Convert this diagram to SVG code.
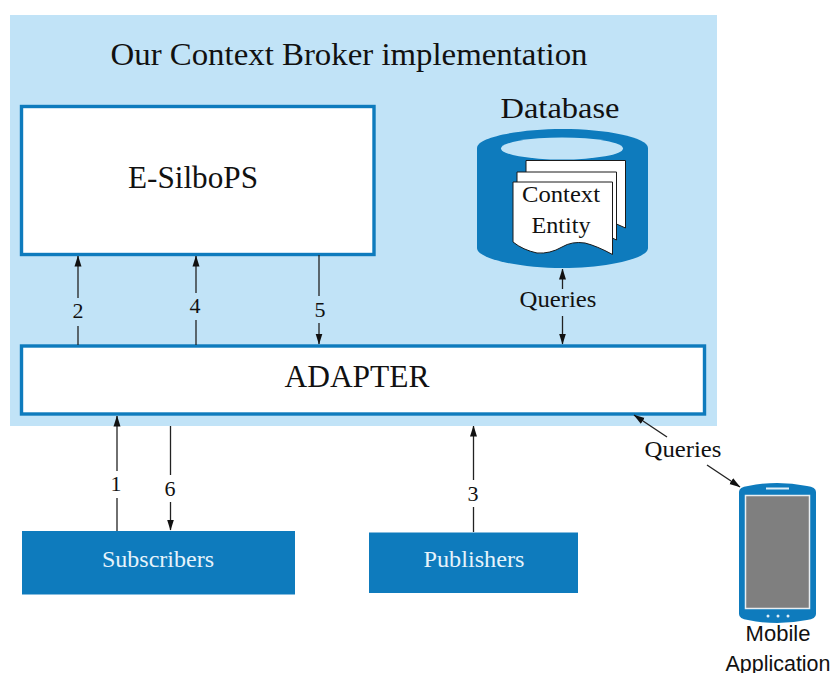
<svg xmlns="http://www.w3.org/2000/svg" width="832" height="673" viewBox="0 0 832 673">
<style>
text{font-family:"Liberation Serif","Times New Roman",serif;fill:#111;text-anchor:middle}
.box{fill:#fff;stroke:#0e7bbd;stroke-width:3.4}
.solid{fill:#0e7bbd}
.c{fill:none;stroke:#222;stroke-width:1.3}
.page{fill:#fff;stroke:#1a1a1a;stroke-width:1}
.n{font-size:22px}
.sans{font-family:"Liberation Sans",Arial,sans-serif;font-size:22px}
.lite{fill:#e6f3fb}
</style>
<defs>
<marker id="a" viewBox="0 0 11 8" refX="10.500" refY="4" markerWidth="11" markerHeight="8" markerUnits="userSpaceOnUse" orient="auto-start-reverse"><path d="M0 .5L11 4L0 7.500Z" fill="#111"/></marker>
</defs>
<rect width="832" height="673" fill="#fff"/>
<g id="broker"><rect x="10" y="15" width="707" height="411" fill="#c1e3f7"/>
<text x="349" y="65" font-size="30.5" textLength="477" lengthAdjust="spacingAndGlyphs">Our Context Broker implementation</text></g>
<g id="esilbops"><rect class="box" x="21.500" y="106.500" width="352.500" height="148"/>
<text x="193" y="188" font-size="31" textLength="130" lengthAdjust="spacingAndGlyphs">E-SilboPS</text></g>
<g id="adapter"><rect class="box" x="21.500" y="346" width="683" height="68"/>
<text x="357" y="387" font-size="31" textLength="145" lengthAdjust="spacingAndGlyphs">ADAPTER</text></g>
<g id="database">
<text x="560" y="118" font-size="29" textLength="119" lengthAdjust="spacingAndGlyphs">Database</text>
<path class="solid" d="M477 148C477 137 520 129 562.500 129C605 129 648 137 648 148V248C648 259 605 268 562.500 268C520 268 477 259 477 248Z"/>
<ellipse cx="562" cy="148.500" rx="61" ry="11" fill="#c1e3f7"/>
<path class="page" d="M526 160.500H625.500V228L612 222Q600 220 590 224H526Z"/>
<path class="page" d="M517 172H616.500V240L604 234Q590 232 580 236H517Z"/>
<path class="page" d="M513 182H612.500V254.500Q597 246 585 243Q572 241 562 247Q550 254 537 253Q523 250 513 242Z"/>
<text x="561" y="202" font-size="23.500" textLength="78" lengthAdjust="spacingAndGlyphs">Context</text>
<text x="561" y="233" font-size="23.500" textLength="59" lengthAdjust="spacingAndGlyphs">Entity</text>
</g>
<g id="subscribers"><rect class="solid" x="22" y="531" width="273" height="63.500"/>
<text class="lite" x="158" y="567" font-size="23" textLength="112" lengthAdjust="spacingAndGlyphs">Subscribers</text></g>
<g id="publishers"><rect class="solid" x="369" y="532.500" width="209" height="60.500"/>
<text class="lite" x="474" y="567" font-size="23" textLength="101" lengthAdjust="spacingAndGlyphs">Publishers</text></g>
<g id="mobile">
<path class="solid" d="M739 492Q739 487 748 486Q777 480 807 486Q816 487 816 492V614Q816 619 807 620Q777 626 748 620Q739 619 739 614Z"/>
<rect x="745.500" y="495.500" width="64" height="113" fill="#7f7f7f" stroke="#e8eef2" stroke-width="1.500"/>
<rect x="766" y="487.500" width="23" height="2" fill="#e0eff8"/>
<g fill="#e0eff8"><circle cx="768" cy="616" r="1.500"/><circle cx="778" cy="616" r="1.500"/><circle cx="788" cy="616" r="1.500"/></g>
<text class="sans" x="778" y="641">Mobile</text>
<text class="sans" x="778" y="671" textLength="105" lengthAdjust="spacingAndGlyphs">Application</text>
</g>
<g id="connectors">
<path class="c" marker-end="url(#a)" d="M78 298V256"/>
<path class="c" d="M78 326V345"/>
<path class="c" marker-end="url(#a)" d="M196 293V256"/>
<path class="c" d="M196 320V345"/>
<path class="c" d="M319 255V296"/>
<path class="c" marker-end="url(#a)" d="M319 323V344"/>
<path class="c" marker-end="url(#a)" d="M562.500 289V269"/>
<path class="c" marker-end="url(#a)" d="M562.500 316V344"/>
<path class="c" marker-end="url(#a)" d="M117 471V416"/>
<path class="c" d="M117 498V531"/>
<path class="c" d="M170.500 426V475"/>
<path class="c" marker-end="url(#a)" d="M170.500 502V530"/>
<path class="c" marker-end="url(#a)" d="M473.500 480V426"/>
<path class="c" d="M473.500 507V532"/>
<path class="c" marker-end="url(#a)" d="M667 437L634 415"/>
<path class="c" marker-end="url(#a)" d="M707 465L740 487"/>
<g class="labels">
<text class="n" x="78" y="318">2</text>
<text class="n" x="195" y="313">4</text>
<text class="n" x="320" y="317">5</text>
<text class="n" x="116" y="491">1</text>
<text class="n" x="170" y="496">6</text>
<text class="n" x="473" y="501">3</text>
<text x="558" y="307" font-size="23" textLength="77" lengthAdjust="spacingAndGlyphs">Queries</text>
<text x="683" y="457" font-size="23" textLength="77" lengthAdjust="spacingAndGlyphs">Queries</text>
</g>
</g>
</svg>
